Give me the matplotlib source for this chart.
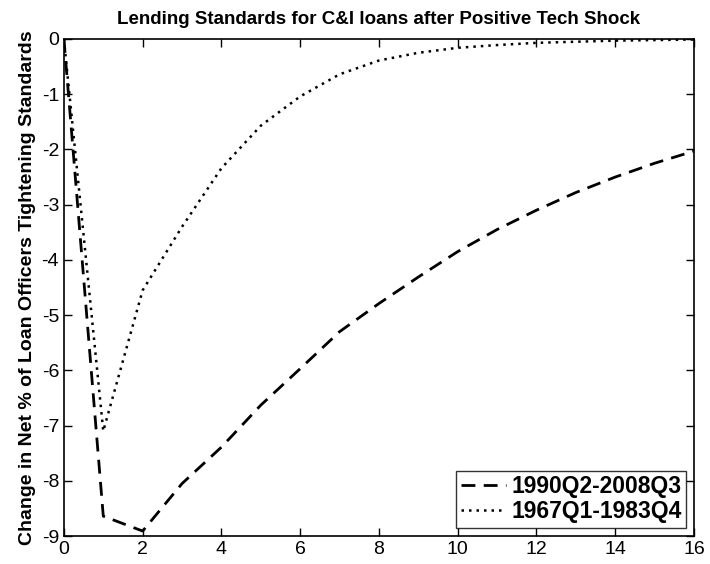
import matplotlib.pyplot as plt
import numpy as np

plt.rcParams['font.family'] = ['Liberation Sans', 'DejaVu Sans']
plt.rcParams['axes.unicode_minus'] = False

# Quarters after the shock
quarters = np.arange(0, 17)

# Impulse responses
recent = [0.0, -8.64, -8.91, -8.05, -7.39, -6.63, -5.97, -5.30, -4.79,
          -4.31, -3.85, -3.45, -3.10, -2.78, -2.50, -2.25, -2.03]
early = [0.0, -7.10, -4.55, -3.40, -2.34, -1.57, -1.04, -0.64, -0.39,
         -0.25, -0.16, -0.11, -0.07, -0.05, -0.03, -0.02, -0.01]
labels = ['1990Q2-2008Q3', '1967Q1-1983Q4']

fig = plt.figure(figsize=(7.1, 5.64), dpi=100)
ax = fig.add_axes([0.090, 0.0496, 0.8875, 0.8813])

ax.plot(quarters, recent, color='black', linestyle=(0, (5, 3)), linewidth=2, label=labels[0])
ax.plot(quarters, early, color='black', linestyle=(0, (1, 2)), linewidth=1.8, label=labels[1])

ax.set_xlim(0, 16)
ax.set_ylim(-9, 0)
ax.set_xticks(np.arange(0, 17, 2))
ax.set_yticks(np.arange(-9, 1, 1))
ax.tick_params(direction='in', top=True, right=True, labelsize=14, length=6, width=1)
for s in ax.spines.values():
    s.set_linewidth(1.2)

ax.set_title('Lending Standards for C&I loans after Positive Tech Shock',
             fontsize=13.5, fontweight='bold', pad=11)
ax.set_ylabel('Change in Net % of Loan Officers Tightening Standards',
              fontsize=14, fontweight='bold', labelpad=4)

leg = ax.legend(loc='lower right', prop={'weight': 'bold', 'size': 16.5},
                frameon=True, fancybox=False, edgecolor='black', handlelength=2.0,
                handletextpad=0.2, borderpad=0.2, labelspacing=0.1,
                borderaxespad=0.35)
leg.get_frame().set_linewidth(1.0)

fig.savefig('out.png', dpi=100)
